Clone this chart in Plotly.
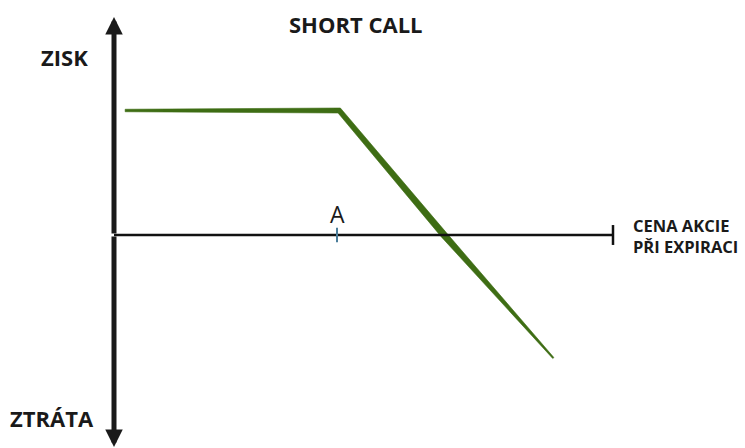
import math
import plotly.graph_objects as go

# Short call payoff at expiration: stock price vs profit
strike = 50
prices = [2.5, 50.5, 74, 98.5]
profit = [25, 25, 0, -24.7]
# stroke thickness (px) at each vertex of the payoff line, tapered like a brush stroke
stroke_px = [2.5, 5, 6.5, 1.5]

title_text = "SHORT CALL"
profit_label = "ZISK"
loss_label = "ZTRÁTA"
strike_label = "A"
x_label_lines = ["CENA AKCIE", "PŘI EXPIRACI"]

W, H = 745, 448
# pixel scale (px per unit) and origin position of the drawing
sx, sy = 4.46, 4.98
ox, oy = 114, 235


def px2x(p):
    return (p - ox) / sx


def px2y(p):
    return (oy - p) / sy


x_range = [px2x(0), px2x(W)]
y_range = [px2y(H), px2y(0)]

x_end = px2x(613)
y_top, y_bot = px2y(17), px2y(447)

fig = go.Figure()

# horizontal price axis with an end cap
fig.add_shape(type="line", x0=0, x1=x_end, y0=0, y1=0,
              line=dict(color="#111111", width=2.5))
fig.add_shape(type="line", x0=x_end, x1=x_end, y0=-2.0, y1=2.0,
              line=dict(color="#111111", width=2.5))
# strike tick
fig.add_shape(type="line", x0=strike, x1=strike, y0=-1.45, y1=1.45,
              line=dict(color="#4a7d9a", width=2))

# payoff line drawn as a tapered, mitred filled stroke
pts = [(ox + x * sx, oy - y * sy) for x, y in zip(prices, profit)]
normals = []
for (x0, y0), (x1, y1) in zip(pts[:-1], pts[1:]):
    dx, dy = x1 - x0, y1 - y0
    L = math.hypot(dx, dy)
    normals.append((-dy / L, dx / L))
left, right = [], []
for i, (px, py) in enumerate(pts):
    if i == 0:
        nx, ny = normals[0]
        k = 1.0
    elif i == len(pts) - 1:
        nx, ny = normals[-1]
        k = 1.0
    else:
        ax_, ay_ = normals[i - 1]
        bx_, by_ = normals[i]
        nx, ny = ax_ + bx_, ay_ + by_
        n = math.hypot(nx, ny)
        nx, ny = nx / n, ny / n
        k = 1.0 / (nx * ax_ + ny * ay_)
    h = stroke_px[i] / 2 * k
    left.append((px + nx * h, py + ny * h))
    right.append((px - nx * h, py - ny * h))
poly = left + right[::-1] + [left[0]]
fig.add_trace(go.Scatter(x=[px2x(p[0]) for p in poly], y=[px2y(p[1]) for p in poly],
                         mode="lines", fill="toself", fillcolor="#3e6d14",
                         line=dict(color="#3e6d14", width=0.6),
                         hoverinfo="skip", showlegend=False))

# vertical profit axis with arrows at both ends
for yt in (y_top, y_bot):
    fig.add_annotation(x=0, y=yt, ax=0, ay=0, xref="x", yref="y",
                       axref="x", ayref="y", text="", showarrow=True,
                       arrowhead=2, arrowsize=0.7, arrowwidth=5,
                       arrowcolor="#1a1a1a")

ink = "#1a1a1a"
fig.add_annotation(x=px2x(356), y=px2y(24), text=f"<b>{title_text}</b>",
                   showarrow=False, font=dict(family="Open Sans", size=22, color=ink))
fig.add_annotation(x=px2x(64), y=px2y(57), text=f"<b>{profit_label}</b>",
                   showarrow=False, font=dict(family="Open Sans", size=22, color=ink))
fig.add_annotation(x=px2x(52), y=px2y(418), text=f"<b>{loss_label}</b>",
                   showarrow=False, font=dict(family="Open Sans", size=22, color=ink))
fig.add_annotation(x=strike, y=px2y(214), text=strike_label,
                   showarrow=False, font=dict(family="Open Sans", size=23, color=ink))
fig.add_annotation(x=px2x(631), y=px2y(236), text="<br>".join(x_label_lines),
                   showarrow=False, xanchor="left", align="left",
                   font=dict(family="Open Sans", size=16.5, weight="bold", color=ink))

fig.update_xaxes(range=x_range, visible=False, fixedrange=True)
fig.update_yaxes(range=y_range, visible=False, fixedrange=True)
fig.update_layout(width=W, height=H, margin=dict(l=0, r=0, t=0, b=0),
                  plot_bgcolor="white", paper_bgcolor="white")

fig.write_html("out.html", config={"displayModeBar": False})
